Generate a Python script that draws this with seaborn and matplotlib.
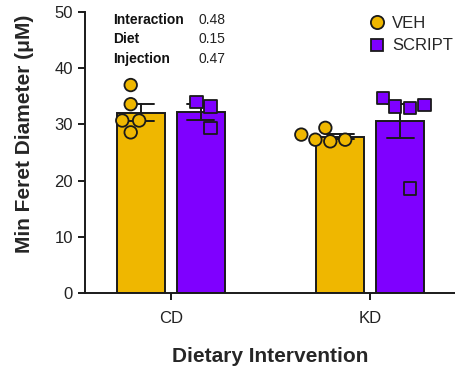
import warnings
warnings.filterwarnings("ignore")
import numpy as np
import pandas as pd
import matplotlib
matplotlib.use("Agg")
import matplotlib.pyplot as plt
from matplotlib.lines import Line2D
import seaborn as sns

diets = ["CD", "KD"]
injections = ["VEH", "SCRIPT"]
cd_veh = [37.0, 33.6, 30.7, 30.7, 28.6]
cd_script = [34.0, 33.2, 29.4]
kd_veh = [29.4, 28.2, 27.0, 27.3, 27.3]
kd_script = [34.7, 33.2, 32.9, 33.5, 18.6]
stats_labels = ["Interaction", "Diet", "Injection"]
stats_values = ["0.48", "0.15", "0.47"]
yticks = [0, 10, 20, 30, 40, 50]

rows = []
for d, inj, vals in [("CD", "VEH", cd_veh), ("CD", "SCRIPT", cd_script),
                     ("KD", "VEH", kd_veh), ("KD", "SCRIPT", kd_script)]:
    for v in vals:
        rows.append({"Diet": d, "Injection": inj, "Value": v})
df = pd.DataFrame(rows)

sns.set_style("ticks")
plt.rcParams["font.family"] = ["Liberation Sans", "DejaVu Sans"]

yellow = "#EFB700"
purple = "#7F00FF"
edge = "#1a1a1a"
palette = {"VEH": yellow, "SCRIPT": purple}

fig = plt.figure(figsize=(4.56, 3.70), dpi=100)
ax = fig.add_axes([0.186, 0.207, 0.814, 0.761])

sns.barplot(data=df, x="Diet", y="Value", hue="Injection", order=diets,
            hue_order=injections, palette=palette, errorbar="se",
            saturation=1, width=0.6, gap=0.2, capsize=0.27, edgecolor=edge,
            linewidth=1.4, err_kws={"color": edge, "linewidth": 1.4},
            ax=ax, legend=False)

for inj, mk in [("VEH", "o"), ("SCRIPT", "s")]:
    sub = df[df["Injection"] == inj]
    sns.swarmplot(data=sub, x="Diet", y="Value", hue="Injection", order=diets,
                  hue_order=injections, palette=palette, dodge=True, marker=mk,
                  size=9, edgecolor=edge, linewidth=1.3, ax=ax, legend=False)

ax.set_xlim(-0.43, 1.43)
ax.set_ylim(0, 50)
ax.set_yticks(yticks)
ax.set_yticklabels([str(t) for t in yticks])
sns.despine(ax=ax)
for s in ["left", "bottom"]:
    ax.spines[s].set_linewidth(1.4)
    ax.spines[s].set_color(edge)
ax.tick_params(axis="both", labelsize=12, width=1.4, length=5, color=edge,
               labelcolor="#222222")
ax.tick_params(axis="x", pad=8)
ax.set_ylabel("Min Feret Diameter (μM)", fontsize=15, fontweight="bold")
ax.yaxis.set_label_coords(-0.137, 0.567)
ax.set_xlabel("Dietary Intervention", fontsize=15, fontweight="bold",
              labelpad=15)

ys = [48.6, 45.1, 41.7]
for lab, val, yy in zip(stats_labels, stats_values, ys):
    ax.text(-0.29, yy, lab, fontsize=10, fontweight="bold", va="center",
            ha="left", color="#111111")
    ax.text(0.14, yy, val, fontsize=10, va="center", ha="left",
            color="#222222")

handles = [Line2D([], [], marker="o", linestyle="", markersize=9.5,
                  markerfacecolor=yellow, markeredgecolor=edge,
                  markeredgewidth=1.3),
           Line2D([], [], marker="s", linestyle="", markersize=9,
                  markerfacecolor=purple, markeredgecolor=edge,
                  markeredgewidth=1.3)]
fig.legend(handles, injections, loc="upper left",
           bbox_to_anchor=(0.79, 0.975), frameon=False, fontsize=12,
           handletextpad=0.3, labelspacing=0.45, borderaxespad=0,
           handlelength=1.2)

fig.savefig("out.png", dpi=100)
